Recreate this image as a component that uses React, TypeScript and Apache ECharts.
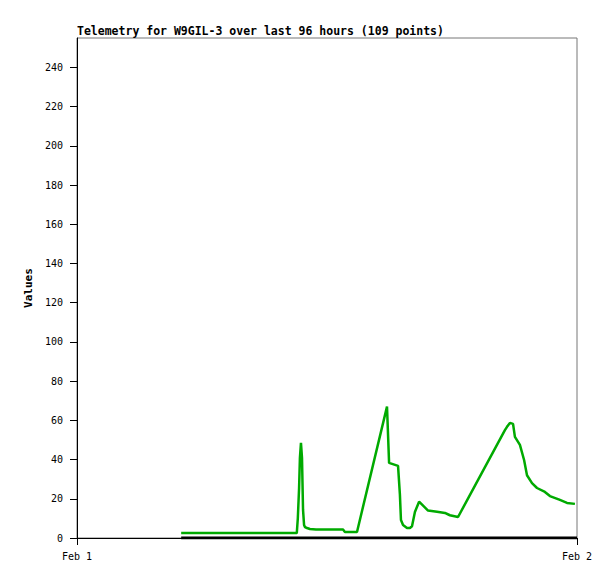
import React, { useEffect, useRef } from "react";
import * as echarts from "echarts";

const titleText = "Telemetry for W9GIL-3 over last 96 hours (109 points)";
const yAxisName = "Values";
const xTickHours = [0, 24];
const xTickLabels = ["Feb 1", "Feb 2"];
const yTickValues = [0, 20, 40, 60, 80, 100, 120, 140, 160, 180, 200, 220, 240];

const greenHours = [
  5.0, 10.55, 10.6, 10.66, 10.7, 10.75, 10.8, 10.85, 10.9, 10.94, 11.04, 11.18, 11.47, 12.77,
  12.86, 13.44, 14.88, 14.98, 15.41, 15.5, 15.55, 15.65, 15.84, 15.98, 16.08, 16.22, 16.42,
  16.85, 17.28, 17.66, 17.9, 18.29, 20.54, 20.64, 20.78, 20.93, 21.02, 21.26, 21.46, 21.6,
  21.84, 22.08, 22.46, 22.7, 23.18, 23.52, 23.9,
];
const greenValues = [
  2.5, 2.5, 10.2, 25.5, 40.9, 48.5, 40.9, 14.3, 6.6, 5.6, 5.1, 4.6, 4.3, 4.3,
  3.1, 3.1, 67, 38.3, 36.8, 22, 9.2, 6.6, 5.1, 5.1, 6, 13.3, 18.5,
  14, 13.4, 12.8, 11.6, 10.7, 55, 56.7, 58.7, 58.2, 51.6, 47.5, 39.8, 32,
  28, 25.5, 23.5, 21.4, 19.4, 17.9, 17.4,
];
const blackHours = [5.0, 24];
const blackValues = [0, 0];

const mono = "'DejaVu Sans Mono', 'Liberation Mono', monospace";

export default function App() {
  const ref = useRef<HTMLDivElement>(null);
  useEffect(() => {
    if (!ref.current) return;
    const chart = echarts.init(ref.current, null, { renderer: "svg" });
    chart.setOption({
      animation: false,
      backgroundColor: "#ffffff",
      title: {
        text: titleText,
        left: 72,
        top: 20,
        textStyle: { fontFamily: mono, fontSize: 11.5, fontWeight: "bold", color: "#000" },
      },
      grid: {
        left: 77,
        right: 38,
        top: 38,
        bottom: 41,
        show: true,
        borderColor: "#777",
        borderWidth: 1,
        containLabel: false,
      },
      xAxis: {
        type: "value",
        min: 0,
        max: 24,
        interval: 24,
        splitLine: { show: false },
        axisLine: { show: true, lineStyle: { color: "#000", width: 1 } },
        axisTick: { show: true, length: 7, lineStyle: { color: "#000" } },
        axisLabel: {
          margin: 13,
          fontFamily: mono,
          fontSize: 10,
          color: "#000",
          formatter: (v: number) => {
            const i = xTickHours.indexOf(v);
            return i >= 0 ? xTickLabels[i] : "";
          },
        },
      },
      yAxis: {
        type: "value",
        min: 0,
        max: 255,
        name: yAxisName,
        nameLocation: "middle",
        nameGap: 37,
        nameRotate: 90,
        nameTextStyle: { fontFamily: mono, fontSize: 11, fontWeight: "bold", color: "#000" },
        splitLine: { show: false },
        axisLine: { show: true, lineStyle: { color: "#000", width: 1 } },
        axisTick: { show: true, length: 7, customValues: yTickValues, lineStyle: { color: "#000" } },
        axisLabel: {
          margin: 14,
          fontFamily: mono,
          fontSize: 10,
          color: "#000",
          customValues: yTickValues,
        },
      },
      series: [
        {
          type: "line",
          data: blackHours.map((h, i) => [h, blackValues[i]]),
          showSymbol: false,
          lineStyle: { color: "#000", width: 3 },
          z: 3,
        },
        {
          type: "line",
          data: greenHours.map((h, i) => [h, greenValues[i]]),
          showSymbol: false,
          lineStyle: { color: "#00aa00", width: 2.5 },
          z: 4,
        },
      ],
    });
    return () => chart.dispose();
  }, []);
  return <div ref={ref} style={{ width: 615, height: 579, position: "absolute", left: 0, top: 0 }} />;
}
